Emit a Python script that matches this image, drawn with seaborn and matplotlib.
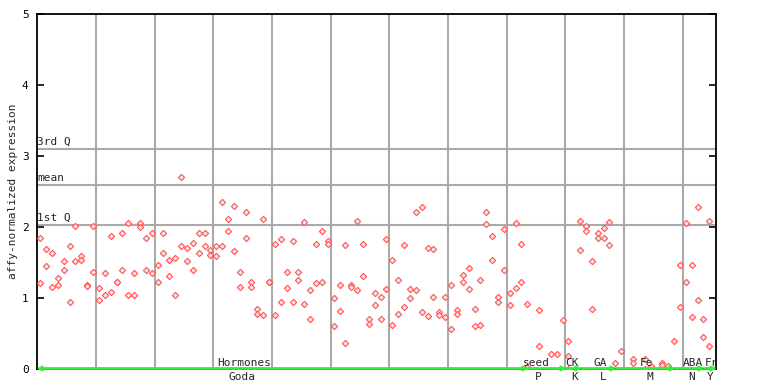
import numpy as np
import pandas as pd
import matplotlib
matplotlib.use("Agg")
import matplotlib.pyplot as plt
import seaborn as sns

# sample position on the x axis and expression value (two replicates per sample mostly)
sample_idx = [
    0, 0, 1, 1, 2, 2, 3, 3, 4, 4, 5, 5, 6, 6, 7, 7, 8, 8, 9, 9,
    10, 10, 11, 11, 12, 12, 13, 13, 14, 14, 15, 15, 16, 16, 17, 17, 18, 18, 19, 19,
    20, 20, 21, 21, 22, 22, 23, 23, 24, 24, 25, 25, 26, 26, 27, 27, 28, 28, 29, 29,
    30, 30, 31, 31, 32, 32, 33, 33, 34, 34, 35, 35, 36, 36, 37, 37, 38, 38, 39, 39,
    40, 40, 41, 41, 42, 42, 43, 43, 44, 44, 45, 45, 46, 46, 47, 47, 48, 48, 49, 49,
    50, 50, 51, 51, 52, 52, 53, 53, 54, 54, 55, 55, 56, 56, 57, 57, 58, 58, 59, 59,
    60, 60, 61, 61, 62, 62, 63, 63, 64, 64, 65, 65, 66, 66, 67, 67, 68, 68, 69, 69,
    70, 70, 71, 71, 72, 72, 73, 73, 74, 74, 75, 75, 76, 76, 77, 77, 78, 78, 79, 79,
    80, 80, 81, 81, 82, 82, 83, 83, 85, 85, 87, 88, 89, 90, 90, 90,
    92, 92, 93, 93, 94, 94, 95, 95, 96, 96, 97, 97, 98, 99, 101, 101, 103, 103, 104,
    106, 106, 107, 108, 109, 109, 110, 110, 111, 111, 112, 112, 113, 113, 114, 114,
]
expr = [
    1.85, 1.21, 1.69, 1.45, 1.64, 1.15, 1.28, 1.18, 1.52, 1.40, 1.73, 0.95, 2.02, 1.52, 1.59, 1.54, 1.18, 1.17, 2.01, 1.37,
    1.14, 0.97, 1.35, 1.04, 1.88, 1.08, 1.22, 1.22, 1.91, 1.39, 2.05, 1.04, 1.35, 1.04, 2.05, 2.00, 1.84, 1.39, 1.91, 1.35,
    1.46, 1.22, 1.91, 1.64, 1.53, 1.31, 1.57, 1.04, 2.71, 1.73, 1.70, 1.52, 1.77, 1.40, 1.92, 1.63, 1.92, 1.73, 1.67, 1.60,
    1.73, 1.59, 2.35, 1.73, 2.11, 1.94, 2.29, 1.66, 1.36, 1.16, 2.21, 1.85, 1.22, 1.15, 0.84, 0.77, 2.11, 0.76, 1.23, 1.22,
    1.76, 0.76, 1.83, 0.94, 1.36, 1.14, 1.80, 0.94, 1.36, 1.26, 2.07, 0.92, 1.11, 0.70, 1.76, 1.21, 1.94, 1.23, 1.80, 1.76,
    1.00, 0.60, 1.19, 0.81, 1.74, 0.36, 1.18, 1.15, 2.09, 1.11, 1.76, 1.31, 0.70, 0.63, 1.07, 0.90, 1.02, 0.71, 1.83, 1.12,
    1.54, 0.62, 1.26, 0.78, 1.74, 0.87, 1.12, 1.00, 2.21, 1.11, 2.28, 0.80, 1.70, 0.74, 1.69, 1.01, 0.80, 0.76, 1.02, 0.73,
    1.19, 0.57, 0.83, 0.77, 1.33, 1.23, 1.42, 1.12, 0.84, 0.61, 1.25, 0.62, 2.21, 2.04, 1.88, 1.53, 1.02, 0.94, 1.97, 1.39,
    1.07, 0.90, 2.05, 1.14, 1.76, 1.22, 0.91, 0.03, 0.83, 0.33, 0.21, 0.21, 0.69, 0.39, 0.18, 0.00,
    2.09, 1.67, 2.02, 1.94, 1.52, 0.84, 1.92, 1.84, 1.98, 1.84, 2.07, 1.74, 0.08, 0.25, 0.14, 0.08, 0.14, 0.00, 0.04,
    0.09, 0.05, 0.04, 0.39, 1.47, 0.88, 2.05, 1.23, 1.47, 0.73, 2.28, 0.97, 0.70, 0.45, 2.09, 0.33,
]

# summary lines
stat_names = ["3rd Q", "mean", "1st Q"]
stat_values = [3.10, 2.585, 2.035]

# experiment groups along the bottom
group_names = ["Hormones", "seed", "CK", "GA", "Fe", "ABA", "Fr"]
group_sub = ["Goda", "P", "K", "L", "M", "N", "Y"]
group_start = [0, 83, 89.5, 92, 98, 108, 113]
group_end = [83, 89.5, 92, 98, 108, 113, 115]
label_x = [34.8, 84.6, 90.6, 95.5, 103.3, 111.2, 114.3]
sub_x = [34.4, 84.8, 91.0, 95.9, 103.8, 111.0, 114.1]

sns.set_style("white")
plt.rcParams["font.family"] = ["DejaVu Sans Mono"]

df = pd.DataFrame({"sample": sample_idx, "expr": expr})

fig = plt.figure(figsize=(7.68, 3.84), dpi=100)
ax = fig.add_axes([37 / 768, 15 / 384, 679 / 768, 355 / 384])

grid_col = "#aaaaaa"
for xv in np.arange(9.5, 115, 10):
    ax.axvline(xv, color=grid_col, lw=1.5, zorder=1)
for name, val in zip(stat_names, stat_values):
    ax.axhline(val, color=grid_col, lw=1.5, zorder=1)
    ax.text(-0.55, val + 0.03, name, fontsize=8, ha="left", va="bottom", zorder=3)

sns.scatterplot(data=df, x="sample", y="expr", ax=ax, marker="D", s=10,
                facecolor="#ffe0e0", edgecolor="#ff5555", linewidth=0.8, zorder=4)

# green group bar on the x axis
for i in range(len(group_names)):
    ax.plot([group_start[i], group_end[i]], [0.01, 0.01], color="#33ee33", lw=2,
            solid_capstyle="butt", zorder=5, clip_on=False)
    ax.plot(group_end[i] - 0.6, 0.01, marker=">", color="#33ee33", ms=3.5, zorder=5, clip_on=False)
    ax.text(label_x[i], 0.02, group_names[i], fontsize=8, ha="center", va="bottom", zorder=6)
    ax.text(sub_x[i], -0.04, group_sub[i], fontsize=8, ha="center", va="top", zorder=6,
            clip_on=False)
ax.plot(0, 0.01, marker="<", color="#33ee33", ms=3.5, zorder=5, clip_on=False)

ax.set_xlim(-0.55, 115.15)
ax.set_ylim(0, 5)
ax.set_yticks([0, 1, 2, 3, 4, 5])
ax.set_xticks([])
ax.tick_params(axis="y", direction="in", length=5, width=1.2, labelsize=8, pad=6,
               right=True, left=True, colors="black")
ax.set_xlabel("")
ax.set_ylabel("affy-normalized expression", fontsize=8, labelpad=3)
for sp in ax.spines.values():
    sp.set_color("black")
    sp.set_linewidth(1.3)

fig.savefig("out.png", dpi=100)
